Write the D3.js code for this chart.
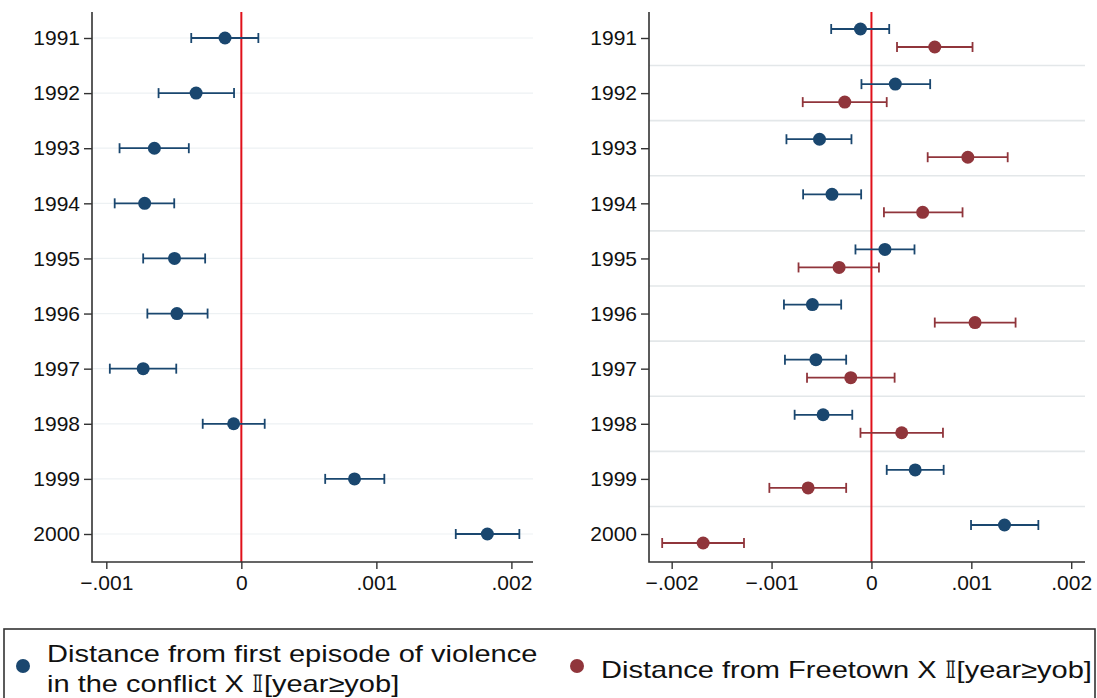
<!DOCTYPE html>
<html>
<head>
<meta charset="utf-8">
<script src="https://cdn.jsdelivr.net/npm/d3@7"></script>
<style>
  body { margin: 0; background: #fff; }
  svg { display: block; font-family: "Liberation Sans", Arial, sans-serif; }
</style>
</head>
<body>
<svg id="chart" width="1097" height="698"></svg>
<script>
const years = ["1991", "1992", "1993", "1994", "1995", "1996", "1997", "1998", "1999", "2000"]

// left panel: single series
const leftEst = [-0.000121, -0.000335, -0.000644, -0.000716, -0.000495, -0.000477, -0.000727, -0.000057, 0.000838, 0.001822]
const leftLo  = [-0.000371, -0.000613, -0.000902, -0.000938, -0.000727, -0.000696, -0.000974, -0.000286, 0.000621, 0.001588]
const leftHi  = [ 0.000126, -0.000054, -0.000389, -0.000497, -0.000268, -0.000250, -0.000482,  0.000173, 0.001059, 0.002059]

// right panel: violence distance (blue)
const violEst = [-0.000110,  0.000239, -0.000520, -0.000395,  0.000135, -0.000591, -0.000556, -0.000484, 0.000438, 0.001332]
const violLo  = [-0.000403, -0.000100, -0.000851, -0.000684, -0.000160, -0.000876, -0.000866, -0.000769, 0.000153, 0.000997]
const violHi  = [ 0.000178,  0.000588, -0.000200, -0.000103,  0.000431, -0.000303, -0.000253, -0.000192, 0.000723, 0.001671]

// right panel: Freetown distance (red)
const ftEst = [0.000634, -0.000267, 0.000965, 0.000513, -0.000324, 0.001037, -0.000207,  0.000303, -0.000634, -0.001685]
const ftLo  = [0.000256, -0.000688, 0.000563, 0.000125, -0.000730, 0.000634, -0.000645, -0.000110, -0.001022, -0.002095]
const ftHi  = [0.001012,  0.000153, 0.001364, 0.000912,  0.000075, 0.001443,  0.000232,  0.000716, -0.000253, -0.001276]

const leftTicks = [-0.001, 0, 0.001, 0.002]
const rightTicks = [-0.002, -0.001, 0, 0.001, 0.002]

const legendViol = ["Distance from first episode of violence", "in the conflict X \u{1D540}[year\u2265yob]"]
const legendFt = "Distance from Freetown X \u{1D540}[year\u2265yob]"

const blue = '#1a476f'
const red = '#90353b'

const svg = d3.select('#chart')
const plotTop = 12, plotBottom = 562

const fmt = d => d === 0 ? '0' : d3.format('.3f')(d).replace('0.', '.')

const y = d3.scalePoint().domain(years).range([38, 534])

function drawPanel(opts) {
  const x = d3.scaleLinear().domain(opts.domain).range(opts.range)
  const g = svg.append('g')
  const x0 = opts.range[0], x1 = opts.range[1]

  if (opts.grid === 'rows') {
    g.selectAll('.grid').data(years).enter().append('line')
      .attr('x1', x0).attr('x2', x1)
      .attr('y1', d => y(d)).attr('y2', d => y(d))
      .attr('stroke', '#edf1f3').attr('stroke-width', 1.2)
  } else {
    g.selectAll('.grid').data(years.slice(0, -1)).enter().append('line')
      .attr('x1', x0).attr('x2', x1)
      .attr('y1', d => y(d) + y.step() / 2).attr('y2', d => y(d) + y.step() / 2)
      .attr('stroke', '#e3e7e9').attr('stroke-width', 1.6)
  }

  // zero line
  g.append('line')
    .attr('x1', x(0)).attr('x2', x(0)).attr('y1', plotTop).attr('y2', plotBottom)
    .attr('stroke', '#e0101a').attr('stroke-width', 2)

  opts.series.forEach(s => {
    const sg = g.append('g')
    const yy = d => y(d) + s.offset
    sg.selectAll('.bar').data(years).enter().append('line')
      .attr('x1', (d, i) => x(s.lo[i])).attr('x2', (d, i) => x(s.hi[i]))
      .attr('y1', yy).attr('y2', yy)
      .attr('stroke', s.color).attr('stroke-width', 1.8)
    ;['lo', 'hi'].forEach(k => {
      sg.selectAll('.cap' + k).data(years).enter().append('line')
        .attr('x1', (d, i) => x(s[k][i])).attr('x2', (d, i) => x(s[k][i]))
        .attr('y1', d => yy(d) - 5).attr('y2', d => yy(d) + 5)
        .attr('stroke', s.color).attr('stroke-width', 1.8)
    })
    sg.selectAll('circle').data(years).enter().append('circle')
      .attr('cx', (d, i) => x(s.est[i])).attr('cy', yy)
      .attr('r', 6.5).attr('fill', s.color)
  })

  // axes
  const ya = g.append('g').attr('transform', `translate(${x0},0)`)
    .call(d3.axisLeft(y).tickSize(8).tickPadding(4))
  ya.select('.domain').remove()
  const xa = g.append('g').attr('transform', `translate(0,${plotBottom})`)
    .call(d3.axisBottom(x).tickValues(opts.ticks).tickFormat(fmt).tickSize(7).tickPadding(6))
  xa.select('.domain').remove()
  ;[ya, xa].forEach(a => {
    a.selectAll('text').attr('font-size', 21).attr('fill', '#111').attr('font-family', null)
    a.selectAll('line').attr('stroke', '#333').attr('stroke-width', 1.4)
  })

  g.append('path')
    .attr('d', `M${x0},${plotTop}V${plotBottom}H${x1}`)
    .attr('fill', 'none').attr('stroke', '#333').attr('stroke-width', 1.6)
}

drawPanel({
  domain: [-0.001106, 0.00216], range: [92, 533],
  ticks: leftTicks, grid: 'rows',
  series: [{ est: leftEst, lo: leftLo, hi: leftHi, color: blue, offset: 0 }]
})

drawPanel({
  domain: [-0.002227, 0.002138], range: [649, 1085],
  ticks: rightTicks, grid: 'sep',
  series: [
    { est: violEst, lo: violLo, hi: violHi, color: blue, offset: -9 },
    { est: ftEst, lo: ftLo, hi: ftHi, color: red, offset: 9 }
  ]
})

// legend (text in the original is stretched sideways)
const lg = svg.append('g')
lg.append('rect')
  .attr('x', 4).attr('y', 629).attr('width', 1091).attr('height', 100)
  .attr('fill', '#fff').attr('stroke', '#333').attr('stroke-width', 1.6)
lg.append('circle').attr('cx', 23).attr('cy', 666).attr('r', 7).attr('fill', blue)
lg.append('text').attr('transform', 'translate(47,0) scale(1.21,1)')
  .attr('font-size', 24).attr('fill', '#111')
  .selectAll('tspan').data(legendViol).enter().append('tspan')
  .attr('x', 0).attr('y', (d, i) => 662 + i * 30).text(d => d)
lg.append('circle').attr('cx', 577).attr('cy', 666).attr('r', 7).attr('fill', red)
lg.append('text').attr('transform', 'translate(601,678) scale(1.21,1)')
  .attr('font-size', 24).attr('fill', '#111')
  .text(legendFt)
</script>
</body>
</html>
